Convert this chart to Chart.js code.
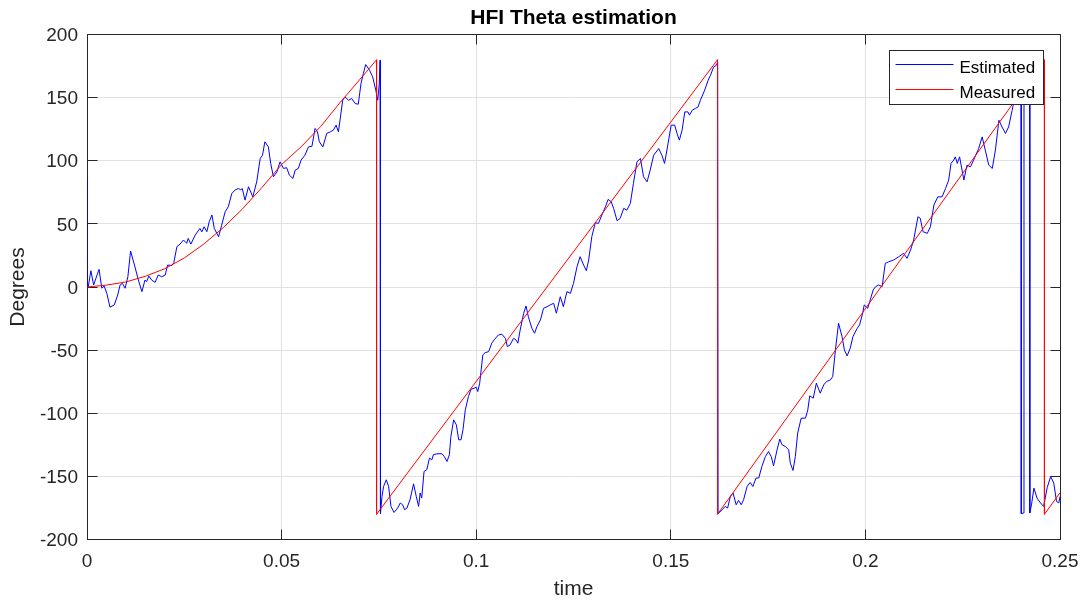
<!DOCTYPE html>
<html lang="en">
<head>
<meta charset="UTF-8">
<title>HFI Theta estimation</title>
<script src="https://cdn.jsdelivr.net/npm/chart.js@4"></script>
<style>
  html, body { margin: 0; padding: 0; background: #fff; }
  #wrap { width: 1081px; height: 603px; }
</style>
</head>
<body>
<div id="wrap"><canvas id="theta" width="1081" height="603"></canvas></div>
<script>
// HFI estimated rotor angle (time in s, angle in degrees)
const estTime = [
  0, 0.00005, 0.0003, 0.0010, 0.0017, 0.0023, 0.0031, 0.0038, 0.0044, 0.0051,
  0.0059, 0.0070, 0.0079, 0.0085, 0.0091, 0.0098, 0.0105, 0.0112, 0.0122, 0.0132,
  0.0141, 0.0149, 0.0153, 0.0159, 0.0166, 0.0175, 0.0183, 0.0192, 0.0201, 0.0207,
  0.0218, 0.0223, 0.0231, 0.0239, 0.0248, 0.0256, 0.0260, 0.0267, 0.0278, 0.0290,
  0.0295, 0.0301, 0.0308, 0.0314, 0.0321, 0.0327, 0.0338, 0.0346, 0.0355, 0.0363,
  0.0372, 0.0380, 0.0389, 0.0395, 0.0399, 0.0406, 0.0415, 0.0426, 0.0436, 0.0445,
  0.0451, 0.0457, 0.0466, 0.0472, 0.0479, 0.0488, 0.0496, 0.0505, 0.0513, 0.0520,
  0.0529, 0.0535, 0.0543, 0.0550, 0.0560, 0.0569, 0.0578, 0.0586, 0.0592, 0.0597,
  0.0606, 0.0616, 0.0625, 0.0633, 0.0640, 0.0646, 0.0657, 0.0663, 0.0672, 0.0680,
  0.0689, 0.0697, 0.0704, 0.0710, 0.0716, 0.0726, 0.0734, 0.0742, 0.0747, 0.0751,
  0.0753, 0.0754,
  0.0758, 0.0762, 0.0769, 0.0775, 0.0781, 0.0789, 0.0798, 0.0805, 0.0811, 0.0816,
  0.0822, 0.0830, 0.0839, 0.0846, 0.0852, 0.0856, 0.0860, 0.0866, 0.0873, 0.0880,
  0.0886, 0.0890, 0.0899, 0.0912, 0.0918, 0.0925, 0.0931, 0.0935, 0.0942, 0.0949,
  0.0955, 0.0961, 0.0966, 0.0972, 0.0980, 0.0987, 0.0995, 0.1000, 0.1004, 0.1009,
  0.1017, 0.1023, 0.1032, 0.1040, 0.1046, 0.1057, 0.1066, 0.1075, 0.1080, 0.1087,
  0.1096, 0.1102, 0.1107, 0.1113, 0.1122, 0.1128, 0.1134, 0.1143, 0.1150, 0.1156,
  0.1165, 0.1173, 0.1182, 0.1190, 0.1199, 0.1206, 0.1216, 0.1224, 0.1233, 0.1242,
  0.1250, 0.1259, 0.1267, 0.1276, 0.1283, 0.1289, 0.1297, 0.1306, 0.1314, 0.1323,
  0.1332, 0.1339, 0.1347, 0.1353, 0.1362, 0.1370, 0.1379, 0.1387, 0.1396, 0.1404,
  0.1413, 0.1422, 0.1430, 0.1439, 0.1447, 0.1456, 0.1469, 0.1477, 0.1484, 0.1493,
  0.1501, 0.1510, 0.1516, 0.1522, 0.1529, 0.1536, 0.1544, 0.1548, 0.1555, 0.1563,
  0.1570, 0.1576, 0.1587, 0.1596, 0.1602, 0.1610, 0.1617, 0.16205, 0.16215,
  0.1632, 0.1640, 0.1646, 0.1653, 0.1660, 0.1668, 0.1674, 0.1681, 0.1687, 0.1696,
  0.1704, 0.1711, 0.1719, 0.1726, 0.1734, 0.1743, 0.1751, 0.1758, 0.1764, 0.1773,
  0.1780, 0.1786, 0.1794, 0.1803, 0.1807, 0.1814, 0.1820, 0.1826, 0.1835, 0.1846,
  0.1852, 0.1857, 0.1866, 0.1874, 0.1884, 0.1893, 0.1900, 0.1910, 0.1916, 0.1923,
  0.1931, 0.1940, 0.1946, 0.1953, 0.1961, 0.1968, 0.1979, 0.1985, 0.1993, 0.1997,
  0.2006, 0.2011, 0.2020, 0.2026, 0.2034, 0.2043, 0.2051, 0.2060, 0.2073, 0.2086,
  0.2098, 0.2107, 0.2116, 0.2124, 0.2135, 0.2141, 0.2148, 0.2159, 0.2167, 0.2176,
  0.2186, 0.2197, 0.2206, 0.2214, 0.2220, 0.2227, 0.2231, 0.2236, 0.2242, 0.2253,
  0.2261, 0.2270, 0.2278, 0.2291, 0.2300, 0.2308, 0.2317, 0.2326, 0.2334, 0.2343,
  0.2351, 0.2360, 0.2368, 0.2377, 0.2386, 0.2393, 0.2400, 0.24005, 0.2407, 0.24075,
  0.2414, 0.2422, 0.24225, 0.2427, 0.2433, 0.2441,
  0.2450, 0.2458, 0.2467, 0.2476, 0.2484, 0.2491, 0.2497, 0.2500
];
const estDeg = [
  85, 0, 0, 12.9, 1.6, 6.9, 14, -1, 0.8, -5,
  -16, -14.2, -6.3, 1.6, 2.9, -1, 8.1, 28.5, 17.4, 5.5,
  -3.7, 5.5, 4.2, 8.7, 5.5, 3.7, 9.5, 8.1, 9.5, 17.4,
  17, 19.2, 31.9, 34, 37.2, 34.6, 38.5, 34, 41.1, 46.4,
  43.7, 47.7, 43.8, 51.7, 57, 46.4, 39.8, 49, 59.6, 63.5,
  74, 76.7, 78, 77, 78, 68.8, 79.4, 71.4, 83.3, 101.8,
  104.4, 115, 111, 97.9, 87.3, 91.2, 99.1, 93.9, 94.5, 88.6,
  86, 92.6, 93.9, 100.5, 104.4, 111, 111.5, 125.6, 123, 115,
  111, 121.6, 122.9, 124.2, 128.2, 122.9, 147.9, 150.6, 147.9, 149.3,
  145.3, 144.8, 161.1, 169, 176.2, 171.7, 166.4, 155.9, 147.9, 161,
  179.6, -179.6,
  -165.9, -158, -152.7, -158, -173.8, -178.6, -175.1, -171.1, -172.5, -176.4,
  -175.1, -168.5, -155.9, -165.9, -173.8, -163.2, -167.2, -146.1, -144.8, -135.5,
  -136.9, -132.9, -132.1, -132.1, -134.3, -138.2, -132.9, -118.4, -105.2, -109.2,
  -121, -121, -113.1, -97.3, -86.8, -80.9, -80.1, -79.4, -82.8, -76.2,
  -53.8, -52, -51.2, -44.5, -41.9, -38, -37.4, -40.6, -47.2, -45.9,
  -40.6, -41.9, -44.5, -34, -20.8, -15, -23.5, -32.7, -36.6, -31.4,
  -26.1, -16.9, -15.6, -14.2, -12.9, -20.8, -7.7, -15.6, -3.7, -5,
  2.9, 16.1, 24, 17.4, 12.9, 21.4, 39.8, 50.9, 50.4, 57,
  63.5, 69.4, 67.5, 62.3, 52.5, 54.4, 62.3, 60.9, 66.2, 82,
  99.1, 101.8, 87.3, 83.3, 92.6, 104.4, 109.7, 104.4, 97.9, 113.7,
  128.2, 128.2, 121.6, 116.3, 124.2, 138.7, 138.7, 136.1, 140, 141.4,
  142.6, 147.9, 155.9, 163.8, 167.7, 174.3, 175.6, 178.2, -179.5,
  -176.4, -173.8, -175.1, -165.9, -163.2, -172.5, -169, -172.5, -168.5, -158,
  -154.8, -158, -151.3, -151.3, -142.2, -134.3, -130.3, -134.3, -141.6, -129,
  -120.5, -125, -126.3, -129, -139.5, -145.3, -134.3, -115.7, -103.9, -103.9,
  -97.3, -86.2, -88.1, -76.2, -84.1, -77.5, -74.9, -73.6, -71, -49.8,
  -28.7, -39.3, -49.8, -54.6, -48.5, -39.3, -32.7, -30.1, -20.8, -14.2,
  -16.9, -11.6, -2.4, 0.2, 1.6, 0.2, 18.7, 20, 21.4, 24,
  26.7, 22.7, 29.3, 37.2, 55.6, 54.4, 43.8, 42.5, 47.7, 64.9,
  71.4, 71.4, 78.1, 84.7, 97.9, 100.5, 103.1, 97.9, 103.1, 84.7,
  96.5, 95.2, 100.5, 109.7, 118.9, 108.4, 96.5, 93.9, 108.4, 132.1,
  126.8, 121.6, 126.8, 140, 153.2, 168, 179, -179.5, -179, 178,
  176, 177, -179, -172, -159.3, -167.2,
  -171.1, -173.8, -159, -150.1, -155.3, -169.8, -171, -166
];

// Encoder angle, wrapped to +/-180
const measTime = [0, 0.005, 0.01, 0.015, 0.02, 0.025, 0.03, 0.035, 0.04, 0.045, 0.05,
  0.055, 0.06, 0.065, 0.07, 0.0744, 0.0744, 0.1620, 0.1620, 0.246, 0.246, 0.25];
const measDeg = [0, 1.5, 4, 8.5, 14.5, 23, 34, 47, 62, 79, 97,
  111, 127, 146, 164, 180, -180, 180, -180, 180, -180, -163];

const xTicks = [0, 0.05, 0.1, 0.15, 0.2, 0.25];
const yTicks = [-200, -150, -100, -50, 0, 50, 100, 150, 200];

const FONT = "'Liberation Sans', Arial, Helvetica, sans-serif";
const AXIS_GREY = '#262626';
const GRID_GREY = '#e1e1e1';

function toPoints(ts, vs) {
  return ts.map((t, i) => ({ x: t, y: vs[i] }));
}

// box around the axes with tick marks pointing inwards on every side
const axesBox = {
  id: 'axesBox',
  beforeDatasetsDraw(chart) {
    const { ctx, chartArea: a, scales: { x, y } } = chart;
    const len = 10;
    const L = Math.floor(a.left) + 0.5, R = Math.floor(a.right) + 0.5;
    const T = Math.floor(a.top) + 0.5, B = Math.floor(a.bottom) + 0.5;
    ctx.save();
    ctx.strokeStyle = AXIS_GREY;
    ctx.lineWidth = 1;
    ctx.beginPath();
    ctx.rect(L, T, R - L, B - T);
    xTicks.forEach(v => {
      const px = Math.floor(x.getPixelForValue(v)) + 0.5;
      ctx.moveTo(px, B); ctx.lineTo(px, B - len);
      ctx.moveTo(px, T); ctx.lineTo(px, T + len);
    });
    yTicks.forEach(v => {
      const py = Math.floor(y.getPixelForValue(v)) + 0.5;
      ctx.moveTo(L, py); ctx.lineTo(L + len, py);
      ctx.moveTo(R, py); ctx.lineTo(R - len, py);
    });
    ctx.stroke();
    ctx.restore();
  }
};

// legend box in the upper right corner of the plot
const boxLegend = {
  id: 'boxLegend',
  afterDraw(chart) {
    const { ctx, chartArea: a } = chart;
    const w = 154, h = 54;
    const bx = Math.floor(a.right - 17 - w) + 0.5;
    const by = Math.floor(a.top + 15.5) + 0.5;
    ctx.save();
    ctx.fillStyle = '#fff';
    ctx.fillRect(bx, by, w, h);
    ctx.strokeStyle = AXIS_GREY;
    ctx.lineWidth = 1;
    ctx.strokeRect(bx, by, w, h);
    ctx.font = '17px ' + FONT;
    ctx.textAlign = 'left';
    ctx.textBaseline = 'alphabetic';
    chart.data.datasets.forEach((ds, i) => {
      const ly = by + 14 + 25 * i;
      ctx.strokeStyle = ds.borderColor;
      ctx.beginPath();
      ctx.moveTo(bx + 6, ly);
      ctx.lineTo(bx + 64, ly);
      ctx.stroke();
      ctx.fillStyle = '#000';
      ctx.fillText(ds.label, bx + 70, by + 22.5 + 24.7 * i);
    });
    ctx.restore();
  }
};

new Chart(document.getElementById('theta'), {
  type: 'line',
  data: {
    datasets: [
      {
        label: 'Estimated',
        data: toPoints(estTime, estDeg),
        borderColor: '#0000ff',
        borderWidth: 1,
        borderJoinStyle: 'round',
        pointRadius: 0,
        tension: 0,
        order: 2
      },
      {
        label: 'Measured',
        data: toPoints(measTime, measDeg),
        borderColor: '#ff0000',
        borderWidth: 1,
        borderJoinStyle: 'round',
        pointRadius: 0,
        tension: 0,
        order: 1
      }
    ]
  },
  options: {
    responsive: false,
    animation: false,
    devicePixelRatio: 1,
    events: [],
    layout: { autoPadding: false, padding: { left: 0, right: 21, top: 0, bottom: 0 } },
    plugins: {
      legend: { display: false },
      tooltip: { enabled: false },
      title: {
        display: true,
        fullSize: false,
        text: 'HFI Theta estimation',
        color: '#000',
        font: { family: FONT, size: 21, weight: 'bold' },
        padding: { top: 6, bottom: 3.3 }
      }
    },
    scales: {
      x: {
        type: 'linear',
        min: 0,
        max: 0.25,
        afterBuildTicks: s => { s.ticks = xTicks.map(v => ({ value: v })); },
        afterFit: s => {
          s.height = 63.5;
          s.paddingLeft = 0;
          s.paddingRight = 0;
        },
        grid: { color: GRID_GREY, drawTicks: false },
        border: { display: false },
        ticks: {
          padding: 11,
          color: AXIS_GREY,
          maxRotation: 0,
          autoSkip: false,
          font: { family: FONT, size: 19 },
          callback: v => String(+v.toFixed(2))
        },
        title: {
          display: true,
          text: 'time',
          color: AXIS_GREY,
          font: { family: FONT, size: 21 },
          padding: { top: 0, bottom: 1 }
        }
      },
      y: {
        type: 'linear',
        min: -200,
        max: 200,
        afterBuildTicks: s => { s.ticks = yTicks.map(v => ({ value: v })); },
        afterFit: s => {
          s.width = 87;
          s.paddingTop = 0;
          s.paddingBottom = 0;
        },
        grid: { color: GRID_GREY, drawTicks: false },
        border: { display: false },
        ticks: {
          padding: 9,
          labelOffset: 1.5,
          color: AXIS_GREY,
          font: { family: FONT, size: 19 },
          callback: v => String(v)
        },
        title: {
          display: true,
          text: 'Degrees',
          color: AXIS_GREY,
          font: { family: FONT, size: 21 },
          padding: { top: 6, bottom: 0 }
        }
      }
    }
  },
  plugins: [axesBox, boxLegend]
});
</script>
</body>
</html>
